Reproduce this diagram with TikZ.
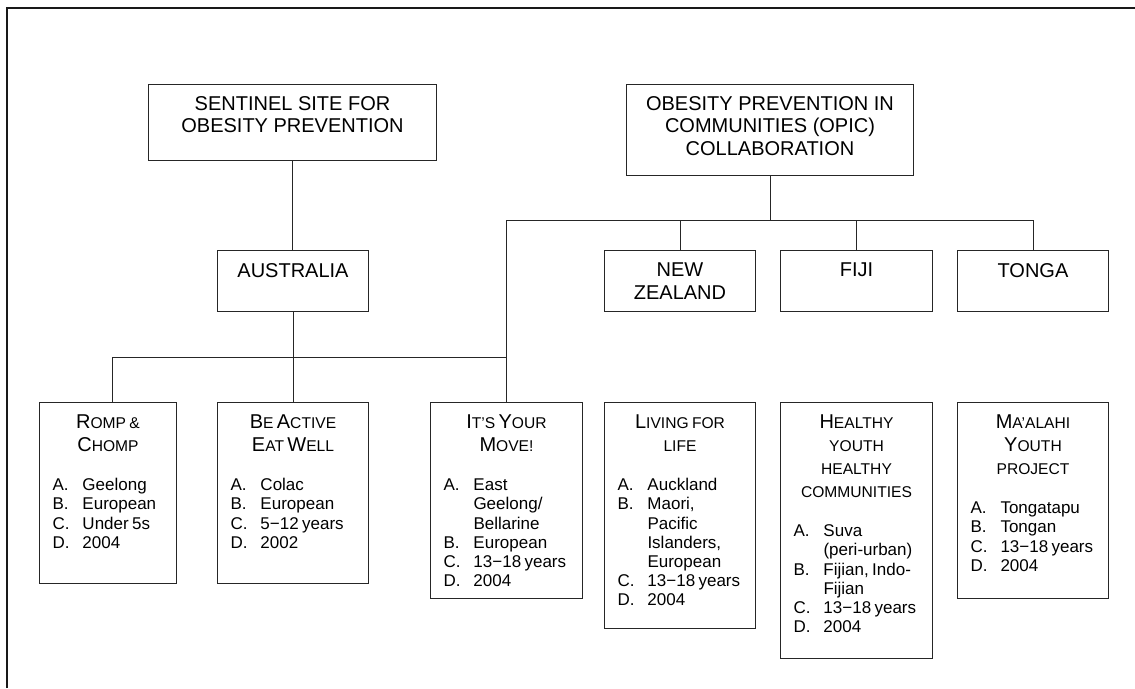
\documentclass[tikz,border=0pt]{standalone}
\usepackage{fontspec}
\setmainfont{Liberation Sans}
\newcommand\hf{\fontsize{20}{22.5}\selectfont}
\newcommand\tf{\fontsize{20}{23}\selectfont}
\newcommand\sm[1]{{\fontsize{15.6}{23}\selectfont #1}}
\newcommand\lf{\fontsize{17}{19.2}\selectfont}
\newcommand\itm[2]{\par\noindent\makebox[30pt][l]{#1}#2}
\newcommand\cnt[1]{\par\noindent\hspace*{30pt}#1}
\newcommand\gap{\vspace{19.8pt}}
\tikzset{
  box/.style={draw=black!85, line width=1pt, inner sep=0pt, anchor=north west},
  head/.style={align=center, font=\hf, inner sep=0pt, anchor=north, text=black},
  ptext/.style={inner sep=0pt, anchor=north, text=black},
  conn/.style={draw=black!85, line width=1pt},
}
\begin{document}
\begin{tikzpicture}[x=1pt,y=-1pt]
\useasboundingbox (0,0) rectangle (1135,688);
\draw[black!90, line width=1.6pt] (7,688) -- (7,8) -- (1135,8);

% top level
\node[box, minimum width=288pt, minimum height=76pt] (sent) at (148,84) {};
\node[box, minimum width=287pt, minimum height=91pt] (opic) at (626,84) {};
\node[head] (sentT) at ([yshift=-12pt]sent.north) {SENTINEL SITE FOR\\OBESITY PREVENTION};
\node[head] (opicT) at ([yshift=-12pt]opic.north) {OBESITY PREVENTION IN\\COMMUNITIES (OPIC)\\COLLABORATION};

% countries
\node[box, minimum width=151pt, minimum height=61pt] (aus) at (217,250) {};
\node[box, minimum width=151pt, minimum height=61pt] (nz) at (604,250) {};
\node[box, minimum width=152pt, minimum height=61pt] (fiji) at (780,250) {};
\node[box, minimum width=151pt, minimum height=61pt] (tonga) at (957,250) {};
\node[head] (ausT) at ([yshift=-13pt]aus.north) {AUSTRALIA};
\node[head] (nzT) at ([yshift=-13pt]nz.north) {NEW\\ZEALAND};
\node[head] (fijiT) at ([yshift=-13pt]fiji.north) {FIJI};
\node[head] (tongaT) at ([yshift=-13pt]tonga.north) {TONGA};

% programmes
\node[box, minimum width=137pt, minimum height=181pt] (romp) at (39,402) {};
\node[box, minimum width=151pt, minimum height=181pt] (bea) at (217,402) {};
\node[box, minimum width=152pt, minimum height=196pt] (iym) at (430,402) {};
\node[box, minimum width=151pt, minimum height=226pt] (liv) at (604,402) {};
\node[box, minimum width=152pt, minimum height=256pt] (hyh) at (780,402) {};
\node[box, minimum width=151pt, minimum height=196pt] (maa) at (957,402) {};

\node[ptext, text width=111pt] (rompT) at ([yshift=-12.7pt]romp.north) {%
{\tf\centering R\sm{OMP \&}\par C\sm{HOMP}\par}\gap
{\lf\raggedright\itm{A.}{Geelong}\itm{B.}{European}\itm{C.}{Under 5s}\itm{D.}{2004}\par}};

\node[ptext, text width=125pt] (beaT) at ([yshift=-12.7pt]bea.north) {%
{\tf\centering B\sm{E} A\sm{CTIVE}\par E\sm{AT} W\sm{ELL}\par}\gap
{\lf\raggedright\itm{A.}{Colac}\itm{B.}{European}\itm{C.}{5−12 years}\itm{D.}{2002}\par}};

\node[ptext, text width=126pt] (iymT) at ([yshift=-12.7pt]iym.north) {%
{\tf\centering I\sm{T’S} Y\sm{OUR}\par M\sm{OVE!}\par}\gap
{\lf\raggedright\itm{A.}{East}\cnt{Geelong/}\cnt{Bellarine}\itm{B.}{European}\itm{C.}{13−18 years}\itm{D.}{2004}\par}};

\node[ptext, text width=125pt] (livT) at ([yshift=-12.7pt]liv.north) {%
{\tf\centering L\sm{IVING FOR}\par \sm{LIFE}\par}\gap
{\lf\raggedright\itm{A.}{Auckland}\itm{B.}{Maori,}\cnt{Pacific}\cnt{Islanders,}\cnt{European}\itm{C.}{13−18 years}\itm{D.}{2004}\par}};

\node[ptext, text width=126pt] (hyhT) at ([yshift=-12.7pt]hyh.north) {%
{\tf\centering H\sm{EALTHY}\par \sm{YOUTH}\par \sm{HEALTHY}\par \sm{COMMUNITIES}\par}\gap
{\lf\raggedright\itm{A.}{Suva}\cnt{(peri-urban)}\itm{B.}{Fijian, Indo-}\cnt{Fijian}\itm{C.}{13−18 years}\itm{D.}{2004}\par}};

\node[ptext, text width=125pt] (maaT) at ([yshift=-12.7pt]maa.north) {%
{\tf\centering M\sm{A’ALAHI}\par Y\sm{OUTH}\par \sm{PROJECT}\par}\gap
{\lf\raggedright\itm{A.}{Tongatapu}\itm{B.}{Tongan}\itm{C.}{13−18 years}\itm{D.}{2004}\par}};

% connectors
\coordinate (yO) at (0,220);
\coordinate (jR) at (112,357);
\draw[conn] (sent.south) -- (sent.south |- aus.north);
\draw[conn] (opic.south) -- (opic.south |- yO);
\draw[conn] (iym.north) -- (iym.north |- yO) -- (tonga.north |- yO) -- (tonga.north);
\draw[conn] (nz.north) -- (nz.north |- yO);
\draw[conn] (fiji.north) -- (fiji.north |- yO);
\draw[conn] (aus.south) -- (aus.south |- bea.north);
\draw[conn] (romp.north -| jR) -- (jR) -- (jR -| iym.north);
\end{tikzpicture}
\end{document}
